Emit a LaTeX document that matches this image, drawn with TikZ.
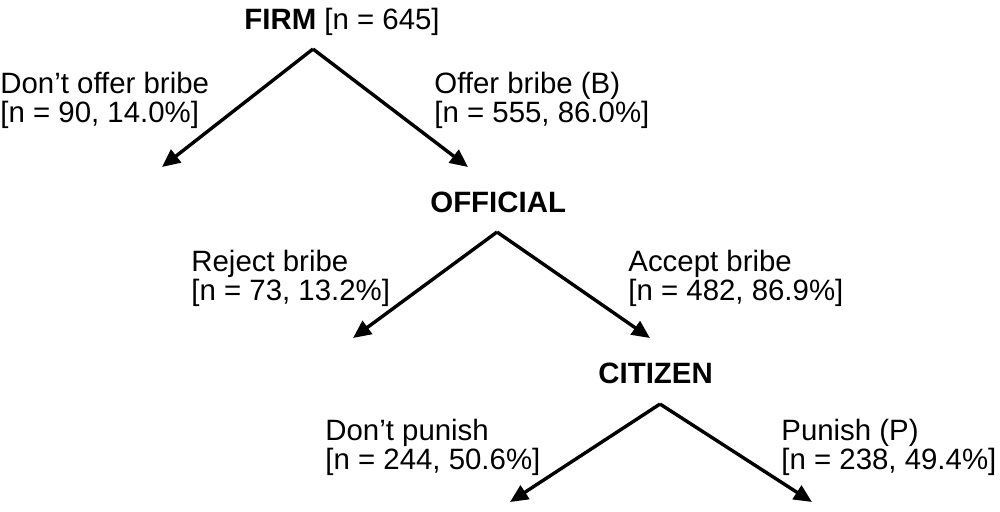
\documentclass[tikz,border=0pt]{standalone}
\usepackage{fontspec}
\setmainfont{Liberation Sans}
\usetikzlibrary{arrows.meta}

\begin{document}
\begin{tikzpicture}[x=0.5pt,y=-0.5pt,
	txt/.style={inner sep=0pt,font=\fontsize{14.7}{14.6}\selectfont},
	head/.style={txt,anchor=base west},
	lbl/.style={txt,anchor=north west,align=left},
	move/.style={line width=1.7pt,-{Triangle[length=9pt,width=8pt]}}]
	\useasboundingbox (0,0) rectangle (1000,511);

	\node[head] (firm) at (244,29) {\textbf{FIRM} [n = 645]};
	\node[head] (official) at (430,212) {\textbf{OFFICIAL}};
	\node[head] (citizen) at (598,383) {\textbf{CITIZEN}};

	\coordinate (firm-top) at (313,49);
	\coordinate (nobribe) at (162,167);
	\coordinate (bribe) at (468,167);
	\coordinate (official-top) at (497,232);
	\coordinate (reject) at (353,338);
	\coordinate (accept) at (650,338);
	\coordinate (citizen-top) at (660,404);
	\coordinate (nopunish) at (510,502);
	\coordinate (punish) at (812,502);

	\draw[move] (firm-top) -- (nobribe);
	\draw[move] (firm-top) -- (bribe);
	\draw[move] (official-top) -- (reject);
	\draw[move] (official-top) -- (accept);
	\draw[move] (citizen-top) -- (nopunish);
	\draw[move] (citizen-top) -- (punish);

	\node[lbl] (nobribe-lbl) at (0,72) {Don’t offer bribe\\{}[n = 90, 14.0\%]};
	\node[lbl] (bribe-lbl) at (434,72) {Offer bribe (B)\\{}[n = 555, 86.0\%]};
	\node[lbl] (reject-lbl) at (191,250) {Reject bribe\\{}[n = 73, 13.2\%]};
	\node[lbl] (accept-lbl) at (628,250) {Accept bribe\\{}[n = 482, 86.9\%]};
	\node[lbl] (nopunish-lbl) at (325,419) {Don’t punish\\{}[n = 244, 50.6\%]};
	\node[lbl] (punish-lbl) at (781,419) {Punish (P)\\{}[n = 238, 49.4\%]};

\end{tikzpicture}
\end{document}
